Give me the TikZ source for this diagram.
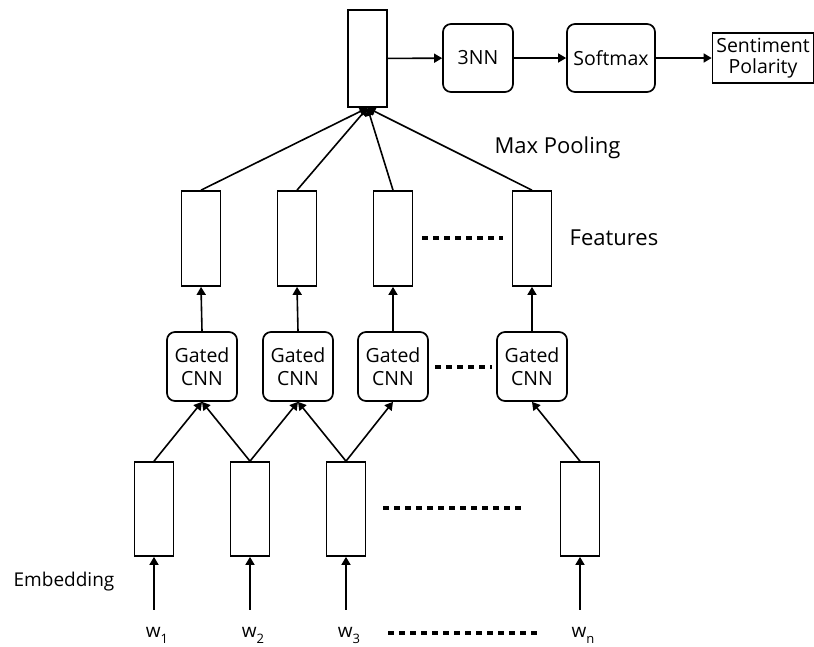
\documentclass[tikz,border=0pt]{standalone}
\usepackage{fontspec}
\setmainfont{Open Sans}
\usetikzlibrary{arrows.meta, positioning}
\newcommand{\wsb}[1]{\raisebox{-6pt}{\fontsize{13}{13}\selectfont #1}}

\begin{document}
\begin{tikzpicture}[x=1pt, y=-1pt,
  vec/.style={rectangle, draw, line width=1.7pt, minimum width=39pt, minimum height=95pt, inner sep=0pt},
  blk/.style={rectangle, rounded corners=8pt, draw, line width=1.7pt, minimum width=70pt, minimum height=68pt,
    align=center, inner sep=0pt, font=\fontsize{19.5}{23}\selectfont},
  lbl/.style={inner sep=0pt, font=\fontsize{19}{22}\selectfont},
  big/.style={inner sep=0pt, font=\fontsize{22}{26}\selectfont},
  e/.style={-{Triangle[length=8pt, width=9pt]}, line width=1.6pt},
  dots/.style={line width=4.5pt, dash pattern=on 6pt off 5pt}]
  \useasboundingbox (0,0) rectangle (814,646);
  % output part
  \node[vec, minimum height=97pt] (pool) at (367.5,58.5) {};
  \node[blk] (nn) at (478,58) {3NN};
  \node[blk, minimum width=88pt] (soft) at (611,58) {Softmax};
  \node[rectangle, draw, line width=1.7pt, minimum width=101pt, minimum height=50pt, inner sep=0pt,
    align=center, font=\fontsize{19.5}{21}\selectfont] (sent) at (763,58) {Sentiment\\Polarity};
  \draw[e] (pool) -- (nn);
  \draw[e] (nn) -- (soft);
  \draw[e] (soft) -- (sent);
  % features
  \node[vec] (f1) at (201,238.5) {};
  \node[vec] (f2) at (297,238.5) {};
  \node[vec] (f3) at (393,238.5) {};
  \node[vec] (f4) at (532,238.5) {};
  \foreach \i in {1,...,4}
    \draw[e] (f\i.north) -- (pool.south);
  \draw[dots] (422,238) -- (503,238);
  \node[big] (maxp) at (557.5,148) {Max Pooling};
  \node[big] (feat) at (614,238) {Features};
  % gated cnn
  \node[blk, minimum height=69pt] (g1) at (202,366.5) {Gated\\CNN};
  \node[blk, minimum height=69pt] (g2) at (298,366.5) {Gated\\CNN};
  \node[blk, minimum height=69pt] (g3) at (393,366.5) {Gated\\CNN};
  \node[blk, minimum height=69pt] (g4) at (532,366.5) {Gated\\CNN};
  \foreach \i in {1,...,4}
    \draw[e] (g\i.north) -- (f\i.south);
  \draw[dots] (435,367) -- (492,367);
  % embedding
  \node[vec, minimum height=94pt] (m1) at (154,509) {};
  \node[vec, minimum height=94pt] (m2) at (250,509) {};
  \node[vec, minimum height=94pt] (m3) at (346,509) {};
  \node[vec, minimum height=94pt] (m4) at (580,509) {};
  \draw[e] (m1.north) -- (g1.south);
  \draw[e] (m2.north) -- (g1.south);
  \draw[e] (m2.north) -- (g2.south);
  \draw[e] (m3.north) -- (g2.south);
  \draw[e] (m3.north) -- (g3.south);
  \draw[e] (m4.north) -- (g4.south);
  \draw[dots] (383,508) -- (525,508);
  \node[lbl] (emb) at (64,582) {Embedding};
  % words
  \node[lbl, anchor=base] (w1) at (157,637) {w\wsb{1}};
  \node[lbl, anchor=base] (w2) at (253,637) {w\wsb{2}};
  \node[lbl, anchor=base] (w3) at (349,637) {w\wsb{3}};
  \node[lbl, anchor=base] (wn) at (583,637) {w\wsb{n}};
  \foreach \w/\m in {w1/m1, w2/m2, w3/m3, wn/m4}
    \draw[e, shorten <=17pt] (\m.south |- \w.north) -- (\m.south);
  \draw[dots] (388,633) -- (538,633);
\end{tikzpicture}
\end{document}
